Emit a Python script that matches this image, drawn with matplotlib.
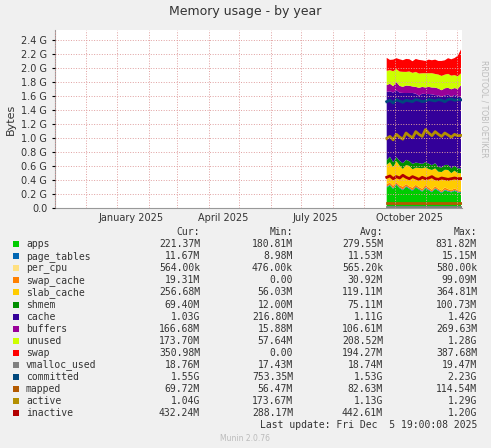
import matplotlib
matplotlib.use("Agg")
import matplotlib.pyplot as plt
import matplotlib.dates as mdates
import numpy as np
import pandas as pd

# ---- data (MiB) ----
dates = pd.date_range("2025-09-23", "2025-12-05", periods=24)
apps =       [300,330,280,340,290,260,310,280,250,300,270,240,290,260,230,280,250,220,260,240,230,250,230,221]
page_tables =[12,12,11,12,11,12,11,12,12,11,12,11,12,11,12,11,12,12,11,12,11,12,12,12]
per_cpu =    [0.56]*24
swap_cache = [40,30,35,25,30,40,30,25,35,30,25,30,35,30,25,30,20,25,30,25,20,25,20,19]
slab_cache = [280,300,270,310,290,260,280,300,270,250,280,300,260,270,290,260,250,270,260,280,250,260,250,257]
shmem =      [70,80,75,60,70,85,75,70,80,75,70,65,75,80,70,75,70,65,70,75,70,72,70,69]
cache =      [1000,960,1020,980,1000,1030,980,1000,1040,1010,990,1030,1000,1020,1040,1000,1050,1040,1020,1030,1050,1040,1060,1055]
buffers =    [100,110,95,120,100,90,110,105,95,100,115,100,95,105,100,110,100,95,105,100,110,100,105,167]
unused =     [210,200,220,190,210,220,200,210,200,220,210,200,210,200,210,200,205,210,200,205,200,190,185,174]
swap =       [190,150,170,160,180,170,190,180,170,190,200,190,180,200,190,210,200,220,210,230,240,250,300,351]
committed =  [1560,1580,1540,1590,1570,1550,1580,1570,1560,1590,1580,1560,1570,1590,1580,1570,1590,1580,1560,1590,1600,1580,1590,1587]
active =     [1020,1050,1000,1080,1040,1010,1100,1060,1030,1120,1080,1050,1150,1100,1060,1120,1080,1050,1100,1070,1040,1080,1060,1065]
inactive =   [450,470,430,460,440,480,450,430,460,440,420,450,430,440,460,430,420,440,430,420,430,440,430,432]
mapped =     [70]*24
vmalloc_used=[19]*24

names = ["apps","page_tables","per_cpu","swap_cache","slab_cache","shmem","cache","buffers",
         "unused","swap","vmalloc_used","committed","mapped","active","inactive"]
colors = ["#00CC00","#0066B3","#FFE080","#FF8000","#FFCC00","#008F00","#330099","#990099",
          "#CCFF00","#FF0000","#808080","#00487D","#B35A00","#B38F00","#B30000"]
cur = ["221.37M","11.67M","564.00k","19.31M","256.68M","69.40M","1.03G","166.68M","173.70M","350.98M","18.76M","1.55G","69.72M","1.04G","432.24M"]
mn  = ["180.81M","8.98M","476.00k","0.00","56.03M","12.00M","216.80M","15.88M","57.64M","0.00","17.43M","753.35M","56.47M","173.67M","288.17M"]
avg = ["279.55M","11.53M","565.20k","30.92M","119.11M","75.11M","1.11G","106.61M","208.52M","194.27M","18.74M","1.53G","82.63M","1.13G","442.61M"]
mx  = ["831.82M","15.15M","580.00k","99.09M","364.81M","100.73M","1.42G","269.63M","1.28G","387.68M","19.47M","2.23G","114.54M","1.29G","1.20G"]

g = lambda a: np.array(a) / 1024.0
fig = plt.figure(figsize=(4.91, 4.48), dpi=100, facecolor="#F0F0F0")
ax = fig.add_axes([55/491, 1-208/448, 407/491, 178/448], facecolor="white")

stack = [apps, page_tables, per_cpu, swap_cache, slab_cache, shmem, cache, buffers, unused, swap]
ax.stackplot(dates, *[g(s) for s in stack], colors=colors[:10], linewidth=0)
for s, c in zip([vmalloc_used, committed, mapped, active, inactive], colors[10:]):
    ax.plot(dates, g(s), color=c, lw=2)

ax.set_xlim(pd.Timestamp("2024-11-01"), pd.Timestamp("2025-12-06"))
ax.set_ylim(0, 2.55)
yt = np.arange(0, 2.41, 0.2)
ax.set_yticks(yt)
ax.set_yticklabels(["0.0"] + [f"{v:.1f} G" for v in yt[1:]], fontsize=7, color="#333333")
ax.xaxis.set_major_locator(mdates.MonthLocator(bymonth=[1, 4, 7, 10], bymonthday=15))
ax.xaxis.set_major_formatter(mdates.DateFormatter("%B %Y"))
ax.xaxis.set_minor_locator(mdates.MonthLocator())
for lab in ax.get_xticklabels():
    lab.set_fontsize(7); lab.set_color("#333333")
ax.tick_params(axis="x", which="major", length=0)
ax.tick_params(axis="both", which="minor", length=0)
ax.tick_params(axis="y", length=2)
ax.grid(True, which="minor", axis="x", color="#E0A0A0", ls=":", lw=0.7)
ax.grid(True, which="major", axis="y", color="#E0A0A0", ls=":", lw=0.7)
ax.set_axisbelow(False)
for sp in ["top", "right"]:
    ax.spines[sp].set_visible(False)
ax.spines["left"].set_color("#999999"); ax.spines["bottom"].set_color("#999999")
ax.set_ylabel("Bytes", fontsize=8, color="#333333")

fig.text(0.5, 1-12/448, "Memory usage - by year", ha="center", va="center", fontsize=9, color="#333333")
fig.text(484/491, 1-60/448, "RRDTOOL / TOBI OETIKER", rotation=270, ha="center", va="top", fontsize=5.5, color="#BBBBBB")

fs = 7
mono = "DejaVu Sans Mono"
y0 = 232
for col, xr in zip(["Cur:", "Min:", "Avg:", "Max:"], [200, 293, 383, 477]):
    fig.text(xr/491, 1-y0/448, col, ha="right", va="center", fontsize=fs, family=mono, color="#333333")
for i, n in enumerate(names):
    y = 1-(244+i*12.1)/448
    fig.patches.append(plt.Rectangle((13/491, y-3/448), 6/491, 6/448, transform=fig.transFigure,
                                     facecolor=colors[i], edgecolor="none"))
    fig.text(26/491, y, n, ha="left", va="center", fontsize=fs, family=mono, color="#333333")
    for vals, xr in zip([cur, mn, avg, mx], [200, 293, 383, 477]):
        fig.text(xr/491, y, vals[i], ha="right", va="center", fontsize=fs, family=mono, color="#333333")
fig.text(477/491, 1-425/448, "Last update: Fri Dec  5 19:00:08 2025", ha="right", va="center",
         fontsize=fs, family=mono, color="#333333")
fig.text(0.5, 1-438/448, "Munin 2.0.76", ha="center", va="center", fontsize=5.5, color="#BBBBBB")

fig.savefig("out.png", dpi=100, facecolor=fig.get_facecolor())
